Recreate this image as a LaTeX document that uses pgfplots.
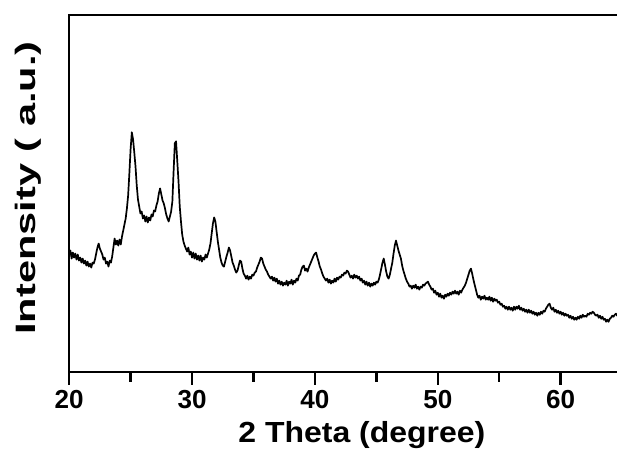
\documentclass[border=0pt]{standalone}
\usepackage{fontspec}
\setmainfont{Liberation Sans}
\usepackage{pgfplots}
\pgfplotsset{compat=1.18}

\begin{document}
\begin{tikzpicture}
% right spine falls just outside the page, as in the cropped original
\useasboundingbox (-69pt,-79pt) rectangle (546.6pt,371pt);
\begin{axis}[
    scale only axis,
    width=548pt, height=356pt,
    xmin=20, xmax=64.7,
    ymin=0, ymax=356,
    clip=false,
    axis line style={line width=2.6pt},
    xtick={20,30,40,50,60},
    minor xtick={25,35,45,55},
    ytick=\empty,
    xtick pos=left,
    xtick align=outside,
    major tick length=13pt,
    minor tick length=10pt,
    xtick style={draw=black, line width=2.4pt},
    /pgf/number format/assume math mode=true,
    xticklabel style={font=\bfseries\fontsize{26}{26}\selectfont, anchor=base, yshift=-24pt},
    xlabel={2 Theta (degree)},
    ylabel={Intensity ( a.u.)},
    xlabel style={font=\bfseries\fontsize{29}{29}\selectfont, at={(axis description cs:0.533,0)}, anchor=base, yshift=-70pt, xscale=1.1},
    ylabel style={font=\bfseries\fontsize{28}{28}\selectfont, at={(axis description cs:-0.062,0.515)}, anchor=base, xscale=1.48},
]
\addplot[black, line width=1.7pt, line join=round] coordinates {
(20.0,118)(20.1,121)(20.2,113)(20.3,119)(20.4,114)(20.5,118)(20.6,112)(20.7,117)(20.8,111)(20.9,114)
(21.0,109)(21.1,113)(21.2,108)(21.3,111)(21.4,106)(21.5,110)(21.6,105)(21.7,108)(21.8,104)(21.9,109)
(22.0,108)(22.1,112)(22.2,118)(22.3,124)(22.4,128)(22.5,123)(22.6,120)(22.7,117)(22.8,112)(22.9,114)
(23.0,108)(23.1,110)(23.2,105)(23.3,111)(23.4,109)(23.5,115)(23.6,124)(23.7,133)(23.8,127)(23.9,131)
(24.0,126)(24.1,132)(24.2,127)(24.3,135)(24.4,141)(24.5,147)(24.6,153)(24.7,163)(24.8,176)(24.9,198)
(25.0,222)(25.1,239)(25.2,232)(25.3,219)(25.4,205)(25.5,186)(25.6,172)(25.7,165)(25.8,158)(25.9,160)
(26.0,153)(26.1,156)(26.2,150)(26.3,155)(26.4,149)(26.5,154)(26.6,151)(26.7,157)(26.8,155)(26.9,161)
(27.0,160)(27.1,166)(27.2,170)(27.3,178)(27.4,183)(27.5,177)(27.6,171)(27.7,168)(27.8,163)(27.9,157)
(28.0,153)(28.1,150)(28.2,155)(28.3,160)(28.4,170)(28.5,200)(28.6,228)(28.7,230)(28.8,210)(28.9,190)
(29.0,165)(29.1,150)(29.2,137)(29.3,130)(29.4,126)(29.5,123)(29.6,120)(29.7,124)(29.8,117)(29.9,120)
(30.0,114)(30.1,119)(30.2,113)(30.3,118)(30.4,112)(30.5,116)(30.6,111)(30.7,116)(30.8,110)(30.9,114)
(31.0,112)(31.1,117)(31.2,114)(31.3,118)(31.4,122)(31.5,128)(31.6,138)(31.7,148)(31.8,154)(31.9,150)
(32.0,140)(32.1,130)(32.2,122)(32.3,114)(32.4,109)(32.5,106)(32.6,105)(32.7,110)(32.8,115)(32.9,119)
(33.0,124)(33.1,121)(33.2,115)(33.3,109)(33.4,106)(33.5,102)(33.6,99)(33.7,101)(33.8,106)(33.9,111)
(34.0,110)(34.1,103)(34.2,98)(34.3,96)(34.4,93)(34.5,96)(34.6,92)(34.7,95)(34.8,93)(34.9,97)
(35.0,96)(35.1,99)(35.2,100)(35.3,104)(35.4,107)(35.5,110)(35.6,114)(35.7,113)(35.8,108)(35.9,105)
(36.0,102)(36.1,100)(36.2,97)(36.3,95)(36.4,93)(36.5,95)(36.6,91)(36.7,94)(36.8,90)(36.9,93)
(37.0,88)(37.1,91)(37.2,87)(37.3,90)(37.4,86)(37.5,89)(37.6,87)(37.7,91)(37.8,86)(37.9,90)
(38.0,88)(38.1,92)(38.2,87)(38.3,91)(38.4,89)(38.5,93)(38.6,91)(38.7,96)(38.8,97)(38.9,102)
(39.0,105)(39.1,106)(39.2,101)(39.3,103)(39.4,100)(39.5,104)(39.6,107)(39.7,110)(39.8,113)(39.9,116)
(40.0,118)(40.1,119)(40.2,114)(40.3,110)(40.4,105)(40.5,102)(40.6,98)(40.7,95)(40.8,93)(40.9,91)
(41.0,93)(41.1,89)(41.2,92)(41.3,88)(41.4,91)(41.5,89)(41.6,93)(41.7,90)(41.8,94)(41.9,92)
(42.0,95)(42.1,94)(42.2,97)(42.3,96)(42.4,99)(42.5,98)(42.6,101)(42.7,100)(42.8,97)(42.9,94)
(43.0,96)(43.1,93)(43.2,97)(43.3,94)(43.4,96)(43.5,93)(43.6,95)(43.7,91)(43.8,93)(43.9,89)
(44.0,91)(44.1,87)(44.2,90)(44.3,86)(44.4,89)(44.5,85)(44.6,88)(44.7,86)(44.8,89)(44.9,87)
(45.0,90)(45.1,89)(45.2,92)(45.3,97)(45.4,103)(45.5,109)(45.6,113)(45.7,107)(45.8,100)(45.9,95)
(46.0,93)(46.1,97)(46.2,103)(46.3,109)(46.4,118)(46.5,126)(46.6,131)(46.7,126)(46.8,121)(46.9,117)
(47.0,113)(47.1,106)(47.2,101)(47.3,97)(47.4,93)(47.5,90)(47.6,88)(47.7,85)(47.8,86)(47.9,83)
(48.0,86)(48.1,84)(48.2,87)(48.3,83)(48.4,85)(48.5,82)(48.6,85)(48.7,84)(48.8,87)(48.9,86)
(49.0,88)(49.1,89)(49.2,90)(49.3,87)(49.4,85)(49.5,82)(49.6,83)(49.7,79)(49.8,81)(49.9,77)
(50.0,79)(50.1,75)(50.2,78)(50.3,74)(50.4,76)(50.5,73)(50.6,77)(50.7,75)(50.8,78)(50.9,76)
(51.0,79)(51.1,77)(51.2,80)(51.3,78)(51.4,81)(51.5,78)(51.6,80)(51.7,77)(51.8,81)(51.9,79)
(52.0,82)(52.1,84)(52.2,86)(52.3,89)(52.4,93)(52.5,97)(52.6,101)(52.7,103)(52.8,98)(52.9,92)
(53.0,87)(53.1,82)(53.2,77)(53.3,74)(53.4,76)(53.5,72)(53.6,75)(53.7,73)(53.8,76)(53.9,72)
(54.0,74)(54.1,72)(54.2,75)(54.3,71)(54.4,74)(54.5,70)(54.6,73)(54.7,71)(54.8,72)(54.9,69)
(55.0,70)(55.1,67)(55.2,68)(55.3,65)(55.4,66)(55.5,63)(55.6,65)(55.7,62)(55.8,65)(55.9,62)
(56.0,64)(56.1,61)(56.2,65)(56.3,62)(56.4,65)(56.5,63)(56.6,66)(56.7,62)(56.8,64)(56.9,61)
(57.0,63)(57.1,60)(57.2,62)(57.3,59)(57.4,62)(57.5,59)(57.6,61)(57.7,58)(57.8,60)(57.9,57)
(58.0,59)(58.1,56)(58.2,59)(58.3,57)(58.4,60)(58.5,58)(58.6,61)(58.7,60)(58.8,63)(58.9,65)
(59.0,67)(59.1,68)(59.2,64)(59.3,62)(59.4,64)(59.5,60)(59.6,62)(59.7,59)(59.8,61)(59.9,58)
(60.0,60)(60.1,57)(60.2,59)(60.3,56)(60.4,58)(60.5,56)(60.6,57)(60.7,54)(60.8,56)(60.9,53)
(61.0,55)(61.1,52)(61.2,54)(61.3,52)(61.4,55)(61.5,53)(61.6,56)(61.7,54)(61.8,57)(61.9,55)
(62.0,56)(62.1,55)(62.2,58)(62.3,57)(62.4,59)(62.5,58)(62.6,60)(62.7,59)(62.8,57)(62.9,56)
(63.0,57)(63.1,54)(63.2,56)(63.3,53)(63.4,55)(63.5,52)(63.6,53)(63.7,50)(63.8,52)(63.9,50)
(64.0,53)(64.1,54)(64.2,56)(64.3,55)(64.4,57)(64.5,58)(64.6,56)(64.7,59)
};
% tick marks below the bottom spine
\draw[line width=2.2pt] (axis cs:20,0) -- ([yshift=-8pt]axis cs:20,0);
\draw[line width=2.2pt] (axis cs:30,0) -- ([yshift=-8pt]axis cs:30,0);
\draw[line width=2.2pt] (axis cs:40,0) -- ([yshift=-8pt]axis cs:40,0);
\draw[line width=2.2pt] (axis cs:50,0) -- ([yshift=-8pt]axis cs:50,0);
\draw[line width=2.2pt] (axis cs:60,0) -- ([yshift=-8pt]axis cs:60,0);
\draw[line width=2.2pt] (axis cs:25,0) -- ([yshift=-6pt]axis cs:25,0);
\draw[line width=2.2pt] (axis cs:35,0) -- ([yshift=-6pt]axis cs:35,0);
\draw[line width=2.2pt] (axis cs:45,0) -- ([yshift=-6pt]axis cs:45,0);
\draw[line width=2.2pt] (axis cs:55,0) -- ([yshift=-6pt]axis cs:55,0);
\end{axis}
\end{tikzpicture}
\end{document}
